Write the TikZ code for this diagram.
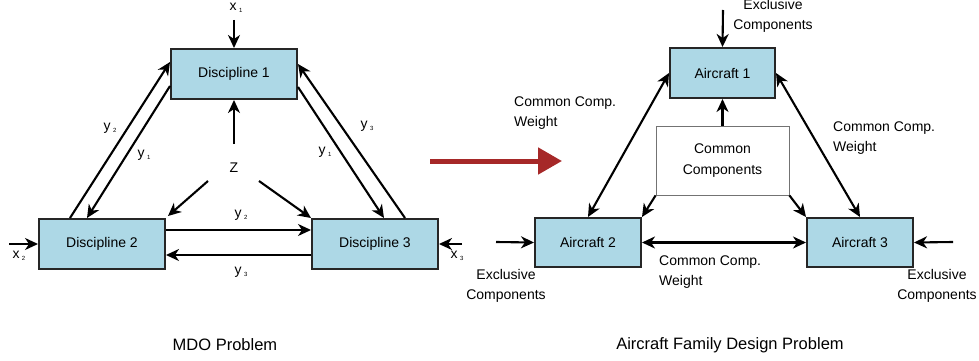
\documentclass[tikz,border=0pt]{standalone}
\usepackage{fontspec}
\setmainfont{Liberation Sans}
\usetikzlibrary{arrows.meta,calc}
\newcommand{\lbl}[2]{#1\,\raisebox{-2.5pt}{\fontsize{6}{6}\selectfont #2}}
\begin{document}
\begin{tikzpicture}[x=1pt,y=-1pt,
  box/.style={draw=black!85,line width=2pt,fill=lightbluefill,minimum width=126pt,minimum height=50pt,inner sep=0pt,font=\fontsize{14}{16}\selectfont},
  abox/.style={box,minimum width=106pt,minimum height=49pt},
  ccbox/.style={draw=black!55,line width=0.8pt,fill=white,minimum width=133pt,minimum height=69pt,align=center,inner sep=0pt,font=\fontsize{14}{21}\selectfont},
  arr/.style={line width=2.1pt,-{Stealth[length=13pt,width=12pt,inset=4pt]}},
  darr/.style={line width=2.1pt,{Stealth[length=13pt,width=12pt,inset=4pt]}-{Stealth[length=13pt,width=12pt,inset=4pt]}},
  lab/.style={font=\fontsize{14}{15}\selectfont,inner sep=0pt},
  txt/.style={font=\fontsize{14}{20}\selectfont,inner sep=0pt},
  captext/.style={font=\fontsize{16.5}{18}\selectfont,inner sep=0pt}]
\definecolor{lightbluefill}{RGB}{173,216,230}
\definecolor{redarrow}{RGB}{166,40,40}
\useasboundingbox (0,0) rectangle (979,361);

% ---------- MDO problem ----------
\node[box] (d1) at (234,74) {Discipline 1};
\node[box] (d2) at (102,244) {Discipline 2};
\node[box] (d3) at (375,244) {Discipline 3};
\node[lab] (z) at (234,168) {Z};

\coordinate (x1s) at (234,20);
\node[lab] (x1l) at (236,8) {\lbl{x}{1}};
\draw[arr] (x1s) -- (d1.north);

\draw[arr] ($(z)+(0,-24)$) -- (d1.south);
\draw[arr] ($(z)+(-26,13)$) -- ($(d2.north east)+(2,-2)$);
\draw[arr] ($(z)+(25,13)$) -- (d3.north west);

\draw[arr] ($(d2.north west)+(32,0)$) -- ($(d1.north west)+(0,14)$);
\draw[arr] ($(d1.north west)+(0,38)$) -- ($(d2.north west)+(49,0)$);
\draw[arr] ($(d1.north east)+(0,39)$) -- ($(d3.north west)+(73,0)$);
\draw[arr] ($(d3.north west)+(94,0)$) -- ($(d1.north east)+(0,16)$);

\draw[arr] ($(d2.north east)+(0,12)$) -- ($(d3.north west)+(0,12)$);
\draw[arr] ($(d3.north west)+(0,37)$) -- ($(d2.north east)+(0,37)$);

\node[lab] (ly2a) at (110,128) {\lbl{y}{2}};
\node[lab] (ly1a) at (144,155) {\lbl{y}{1}};
\node[lab] (ly3a) at (367,126) {\lbl{y}{3}};
\node[lab] (ly1b) at (325,152) {\lbl{y}{1}};
\node[lab] (ly2b) at (241,215) {\lbl{y}{2}};
\node[lab] (ly3b) at (241,272) {\lbl{y}{3}};

\coordinate (x2s) at (9,244);
\draw[arr] (x2s) -- (d2.west);
\node[lab] (x2l) at (19,256) {\lbl{x}{2}};
\coordinate (x3s) at (462,244);
\draw[arr] (x3s) -- (d3.east);
\node[lab] (x3l) at (457,256) {\lbl{x}{3}};

% ---------- red arrow ----------
\coordinate (ra) at (430,161);
\coordinate (rb) at (562,161);
\draw[redarrow,line width=5pt,-{Triangle[length=24pt,width=26pt]}] (ra) -- (rb);

% ---------- Aircraft family ----------
\node[abox,minimum width=105pt,minimum height=50pt] (a1) at (722.5,73) {Aircraft 1};
\node[abox] (a2) at (588,242.5) {Aircraft 2};
\node[abox] (a3) at (860,242.5) {Aircraft 3};
\node[ccbox] (cc) at (722.5,160.5) {Common\\Components};

\draw[arr] (cc.north) -- (a1.south);
\draw[arr] (cc.south west) -- (a2.north east);
\draw[arr] (cc.south east) -- (a3.north west);

\draw[darr] (a1.west) -- (a2.north);
\draw[darr] (a1.east) -- (a3.north);
\draw[darr] (a2.east) -- (a3.west);

\coordinate (e1) at (723,10);
\draw[arr] (e1) -- (a1.north);
\node[txt,align=center] (e1l) at (773,16) {Exclusive\\Components};
\coordinate (e2) at (496,242);
\draw[arr] (e2) -- (a2.west);
\node[txt,align=center] (e2l) at (506,286) {Exclusive\\Components};
\coordinate (e3) at (953,242);
\draw[arr] (e3) -- (a3.east);
\node[txt,align=center] (e3l) at (937,286) {Exclusive\\Components};

\node[txt,align=left,anchor=west] (w1) at (514,113) {Common Comp.\\Weight};
\node[txt,align=left,anchor=west] (w2) at (833,138) {Common Comp.\\Weight};
\node[txt,align=left,anchor=west] (w3) at (659,272) {Common Comp.\\Weight};

% ---------- captions ----------
\node[captext] (c1) at (225,345) {MDO Problem};
\node[captext] (c2) at (730,345) {Aircraft Family Design Problem};
\end{tikzpicture}
\end{document}
